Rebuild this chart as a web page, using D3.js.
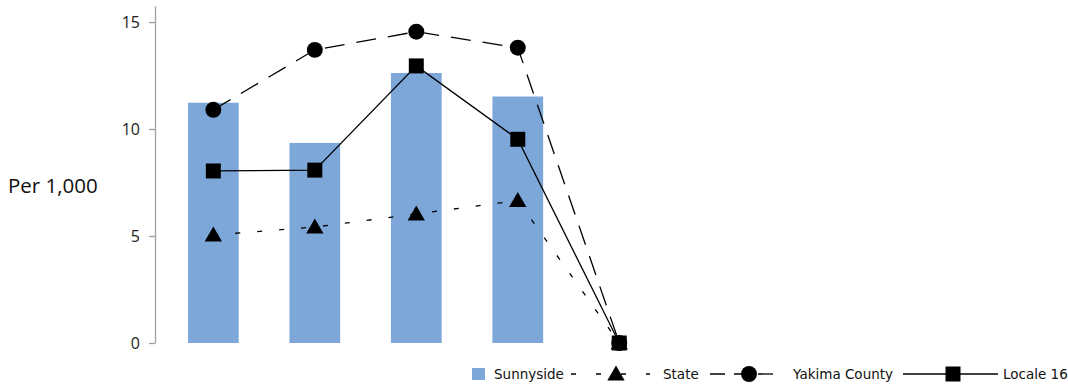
<!DOCTYPE html>
<html>
<head>
<meta charset="utf-8">
<script src="https://cdn.jsdelivr.net/npm/d3@7"></script>
<style>
  html, body { margin: 0; padding: 0; background: #fff; }
  svg { display: block; }
</style>
</head>
<body>
<svg id="chart" width="1068" height="388"></svg>
<script>
// data
const categories = ["c1", "c2", "c3", "c4", "c5"];
const sunnyside = [11.23, 9.35, 12.62, 11.52, 0];
const state = [5.05, 5.42, 6.03, 6.66, 0];
const yakima = [10.9, 13.7, 14.55, 13.8, 0];
const locale16 = [8.04, 8.08, 12.95, 9.52, 0];
const yTicks = [0, 5, 10, 15];

const svg = d3.select("#chart");

const x = d3.scaleBand()
    .domain(categories)
    .range([162.6, 670])
    .paddingInner(0.5)
    .paddingOuter(0.25);

const y = d3.scaleLinear()
    .domain([0, 15.75])
    .range([343, 6]);

// y axis
const yAxis = svg.append("g")
    .attr("transform", "translate(155,0)")
    .call(d3.axisLeft(y).tickValues(yTicks).tickSize(6).tickPadding(9).tickSizeOuter(0));
yAxis.select(".domain").attr("stroke", "#a0a0a0").attr("stroke-width", 1.3);
yAxis.selectAll(".tick line").attr("stroke", "#a0a0a0").attr("stroke-width", 1.3);
yAxis.selectAll(".tick text")
    .attr("fill", "#222")
    .style("font", "16px 'Open Sans', sans-serif");

svg.append("text")
    .attr("x", 8)
    .attr("y", 193)
    .attr("fill", "#111")
    .style("font", "20.5px 'Open Sans', sans-serif")
    .text("Per 1,000");

// bars
svg.append("g")
    .selectAll("rect")
    .data(sunnyside)
    .join("rect")
    .attr("x", (d, i) => x(categories[i]))
    .attr("width", x.bandwidth())
    .attr("y", d => y(d))
    .attr("height", d => y(0) - y(d))
    .attr("fill", "#7da7d8");

const cx = i => x(categories[i]) + x.bandwidth() / 2;
const line = d3.line().x((d, i) => cx(i)).y(d => y(d));

const series = [
  {values: state, dash: "5,17", marker: "triangle"},
  {values: yakima, dash: "20,12", marker: "circle"},
  {values: locale16, dash: null, marker: "square"}
];

const symbolOf = {
  triangle: d3.symbol().type(d3.symbolTriangle).size(130),
  circle: d3.symbol().type(d3.symbolCircle).size(200),
  square: d3.symbol().type(d3.symbolSquare).size(225)
};

series.forEach(s => {
  svg.append("path")
      .datum(s.values)
      .attr("d", line)
      .attr("fill", "none")
      .attr("stroke", "#000")
      .attr("stroke-width", 1.3)
      .attr("stroke-dasharray", s.dash);
});
series.forEach(s => {
  svg.append("g")
      .selectAll("path")
      .data(s.values)
      .join("path")
      .attr("transform", (d, i) => `translate(${cx(i)},${y(d) + (s.marker === "triangle" ? 1.5 : 0)})`)
      .attr("d", symbolOf[s.marker]())
      .attr("fill", "#000");
});

// legend
const lg = svg.append("g").style("font", "13.5px 'DejaVu Sans', sans-serif").attr("fill", "#111");
lg.append("rect").attr("x", 472).attr("y", 368).attr("width", 13).attr("height", 12).attr("fill", "#7da7d8");
lg.append("text").attr("x", 494).attr("y", 379).text("Sunnyside");

const legendItems = [
  {x1: 571, x2: 650, mx: 616, dash: "5,20", marker: "triangle", label: "State", tx: 663},
  {x1: 710, x2: 775, mx: 749, dash: "15,9", marker: "circle", label: "Yakima County", tx: 793},
  {x1: 903, x2: 998, mx: 953, dash: null, marker: "square", label: "Locale 16", tx: 1003}
];
legendItems.forEach(it => {
  lg.append("line")
      .attr("x1", it.x1).attr("x2", it.x2)
      .attr("y1", 374).attr("y2", 374)
      .attr("stroke", "#000").attr("stroke-width", 1.3)
      .attr("stroke-dasharray", it.dash);
  lg.append("path")
      .attr("transform", `translate(${it.mx},${374 + (it.marker === "triangle" ? 1.5 : 0)})`)
      .attr("d", symbolOf[it.marker]())
      .attr("fill", "#000");
  lg.append("text").attr("x", it.tx).attr("y", 379).text(it.label);
});
</script>
</body>
</html>
